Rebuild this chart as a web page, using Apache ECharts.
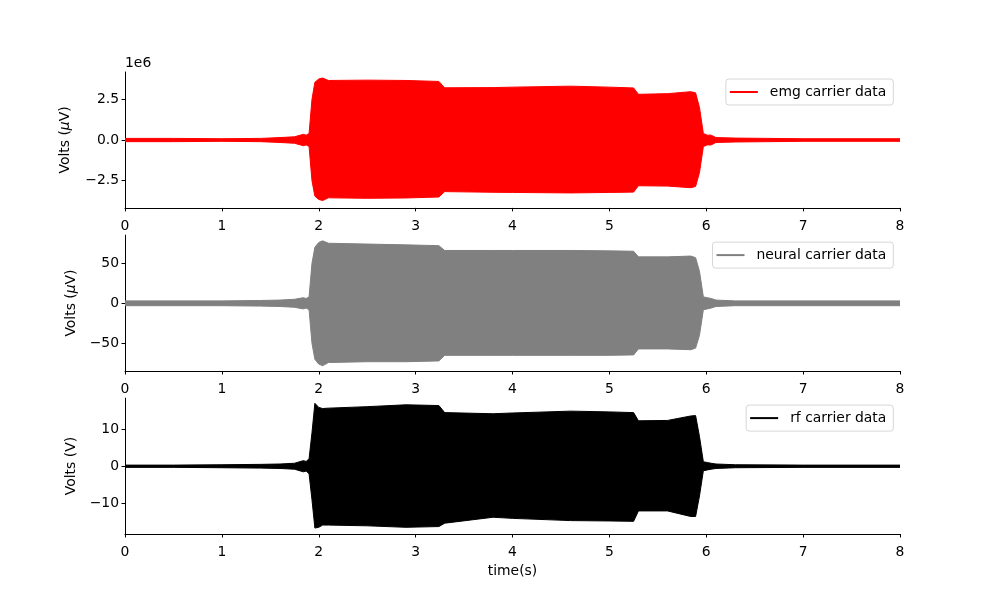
<!DOCTYPE html>
<html>
<head>
<meta charset="utf-8">
<script src="https://cdn.jsdelivr.net/npm/echarts@6/dist/echarts.min.js"></script>
<style>html,body{margin:0;padding:0;background:#fff}#c{width:1000px;height:600px}</style>
</head>
<body>
<div id="c"></div>
<script>
// shared time axis (s)
var timeS = [0, 0.5, 1.0, 1.4, 1.6, 1.75, 1.84, 1.87, 1.9, 1.93, 1.96, 2.0, 2.04, 2.1, 2.5, 2.9, 3.24, 3.3, 3.8, 4.0, 4.6, 5.0, 5.25, 5.3, 5.6, 5.84, 5.89, 5.93, 5.97, 6.01, 6.05, 6.1, 6.3, 7.0, 8.0];
// emg carrier envelope (units of 1e6 uV)
var emgUpper = [0.1, 0.1, 0.08, 0.1, 0.15, 0.2, 0.35, 0.3, 0.4, 2.5, 3.55, 3.75, 3.81, 3.66, 3.68, 3.66, 3.6, 3.21, 3.22, 3.25, 3.31, 3.25, 3.2, 2.81, 2.85, 2.97, 2.9, 2.0, 0.4, 0.3, 0.3, 0.15, 0.12, 0.08, 0.08];
var emgLower = [-0.1, -0.1, -0.08, -0.1, -0.15, -0.2, -0.35, -0.3, -0.4, -2.5, -3.45, -3.65, -3.72, -3.55, -3.58, -3.56, -3.5, -3.17, -3.21, -3.22, -3.25, -3.22, -3.2, -2.81, -2.83, -2.93, -2.85, -2.0, -0.4, -0.3, -0.3, -0.15, -0.12, -0.08, -0.08];
// neural carrier envelope (uV)
var neuralUpper = [3, 3, 3, 3.5, 4, 5, 7, 6, 8, 50, 70, 76, 78, 75, 74, 73, 72, 66, 66, 66, 66, 65.5, 65, 58, 58, 59, 57, 40, 8, 7, 6, 4, 3, 3, 3];
var neuralLower = [-3, -3, -3, -3.5, -4, -5, -7, -6, -8, -50, -70, -76, -78, -74, -73, -73, -72, -65, -65, -65, -65, -65, -64.5, -57, -57, -58, -56, -40, -8, -7, -6, -4, -3, -3, -3];
// rf carrier envelope (V)
var rfUpper = [0.3, 0.3, 0.4, 0.5, 0.6, 0.8, 1.5, 1.3, 2.0, 9, 16.9, 15.8, 15.5, 15.6, 16.0, 16.5, 16.3, 14.4, 14.1, 14.3, 14.8, 14.6, 14.4, 12.2, 12.3, 13.5, 13.6, 8, 1.2, 1.0, 0.8, 0.6, 0.4, 0.3, 0.3];
var rfLower = [-0.3, -0.3, -0.4, -0.5, -0.6, -0.8, -1.5, -1.3, -2.0, -9, -16.6, -16.4, -15.8, -15.8, -16.0, -16.4, -16.2, -15.3, -13.7, -14.0, -14.6, -14.7, -14.8, -12.0, -12.0, -13.5, -13.5, -8, -1.2, -1.0, -0.8, -0.6, -0.4, -0.3, -0.3];

var xTicks = [0, 1, 2, 3, 4, 5, 6, 7, 8];
var emgTicks = [-2.5, 0, 2.5];
var neuralTicks = [-50, 0, 50];
var rfTicks = [-10, 0, 10];
var names = ['emg carrier data', 'neural carrier data', 'rf carrier data'];
var colors = ['#ff0000', '#808080', '#000000'];
var yLabels = ['Volts ({it|\u03bc}V)', 'Volts ({it|\u03bc}V)', 'Volts (V)'];
var yRanges = [[-4.17, 4.18], [-84.6, 85.2], [-18.2, 18.3]];
var yDecimals = [1, 0, 0];

var FS = 13.9;
var FONT = 'DejaVu Sans';
var gridTops = [72, 235.1, 398.1];
var gridH = 135.9;
var nameGaps = [53, 44, 47];
var overlap = [0.06, 1.5, 0.25]; // fill origins pushed past zero so the two halves overlap (no seam)
var tickSets = [emgTicks, neuralTicks, rfTicks];
var uppers = [emgUpper, neuralUpper, rfUpper];
var lowers = [emgLower, neuralLower, rfLower];

function fmt(d) { return function (v) { var s = Number(v).toFixed(d); return s.replace('-', '\u2212'); }; }

var grids = [], xAxes = [], yAxes = [], series = [], legends = [];
for (var i = 0; i < 3; i++) {
  grids.push({ left: 125, width: 775, top: gridTops[i], height: gridH });
  xAxes.push({
    type: 'value', gridIndex: i, min: 0, max: 8,
    name: i === 2 ? 'time(s)' : '', nameLocation: 'middle', nameGap: 30,
    nameTextStyle: { color: '#000', fontSize: FS, fontFamily: FONT },
    axisLine: { onZero: false, lineStyle: { color: '#000', width: 1 } },
    axisTick: { length: 3.5, lineStyle: { color: '#000' }, customValues: xTicks },
    axisLabel: { color: '#000', fontSize: FS, fontFamily: FONT, margin: 11, customValues: xTicks, formatter: fmt(0) },
    splitLine: { show: false }
  });
  yAxes.push({
    type: 'value', gridIndex: i, min: yRanges[i][0], max: yRanges[i][1],
    name: yLabels[i], nameLocation: 'middle', nameGap: nameGaps[i],
    nameTextStyle: { color: '#000', fontSize: FS, fontFamily: FONT, rich: { it: { fontStyle: 'italic', fontSize: FS, fontFamily: FONT, color: '#000' } } },
    axisLine: { show: true, onZero: false, lineStyle: { color: '#000', width: 1 } },
    axisTick: { show: true, length: 3.5, lineStyle: { color: '#000' }, customValues: tickSets[i] },
    axisLabel: { color: '#000', fontSize: FS, fontFamily: FONT, margin: 6, customValues: tickSets[i], formatter: fmt(yDecimals[i]) },
    splitLine: { show: false }
  });
  var envs = [uppers[i], lowers[i]];
  for (var j = 0; j < 2; j++) {
    (function (arr, org) {
      series.push({
        type: 'line', name: names[i], xAxisIndex: i, yAxisIndex: i,
        data: timeS.map(function (t, k) { return [t, arr[k]]; }),
        symbol: 'none', showSymbol: false,
        color: colors[i],
        lineStyle: { color: colors[i], width: 1 },
        areaStyle: { color: colors[i], opacity: 1, origin: org },
        emphasis: { disabled: true }
      });
    })(envs[j], j === 0 ? -overlap[i] : overlap[i]);
  }
  legends.push({
    data: [names[i]], right: 106.7, top: gridTops[i] + 7,
    orient: 'vertical',
    icon: 'rect', itemWidth: 28, itemHeight: 2,
    padding: [5, 7, 5, 4],
    borderColor: 'rgba(204,204,204,0.8)', borderWidth: 1, borderRadius: 3,
    backgroundColor: 'rgba(255,255,255,0.8)',
    textStyle: { color: '#000', fontSize: FS, fontFamily: FONT, lineHeight: 16, padding: [0, 0, 0, 7] },
    itemStyle: { color: colors[i] },
    selectedMode: false
  });
}

var chart = echarts.init(document.getElementById('c'), null, { renderer: 'canvas' });
chart.setOption({
  animation: false,
  backgroundColor: '#fff',
  grid: grids, xAxis: xAxes, yAxis: yAxes, series: series, legend: legends,
  graphic: [{ type: 'text', left: 125, top: 56, style: { text: '1e6', fontSize: FS, fontFamily: FONT, fill: '#000' } }]
});
</script>
</body>
</html>
